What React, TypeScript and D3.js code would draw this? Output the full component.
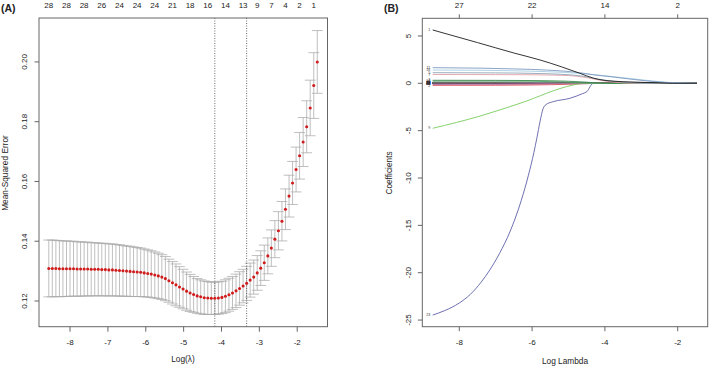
import React from 'react';
import * as d3 from 'd3';

// ---- Panel A: cross-validation curve ----
const logLambda = [
  -8.561, -8.468, -8.374, -8.281, -8.188, -8.094, -8.001, -7.908, -7.814, -7.721,
  -7.628, -7.535, -7.441, -7.348, -7.255, -7.161, -7.068, -6.975, -6.881, -6.788,
  -6.695, -6.602, -6.508, -6.415, -6.322, -6.228, -6.135, -6.042, -5.948, -5.855,
  -5.762, -5.669, -5.575, -5.482, -5.389, -5.295, -5.202, -5.109, -5.015, -4.922,
  -4.829, -4.736, -4.642, -4.549, -4.456, -4.362, -4.269, -4.176, -4.082, -3.989,
  -3.896, -3.803, -3.709, -3.616, -3.523, -3.429, -3.336, -3.243, -3.149, -3.056,
  -2.963, -2.870, -2.776, -2.683, -2.590, -2.496, -2.403, -2.310, -2.216, -2.123,
  -2.030, -1.937, -1.843, -1.750, -1.657, -1.563, -1.470,
];

const cvMean = [
  0.1309, 0.1309, 0.1309, 0.1308, 0.1308, 0.1308, 0.1308, 0.1308, 0.1307, 0.1307,
  0.1307, 0.1307, 0.1306, 0.1306, 0.1306, 0.1305, 0.1305, 0.1304, 0.1304, 0.1303,
  0.1302, 0.1301, 0.1300, 0.1299, 0.1298, 0.1297, 0.1296, 0.1294, 0.1292, 0.1290,
  0.1287, 0.1284, 0.1280, 0.1275, 0.1268, 0.1261, 0.1254, 0.1247, 0.1240, 0.1233,
  0.1227, 0.1222, 0.1217, 0.1214, 0.1211, 0.1210, 0.1209, 0.1209, 0.1210, 0.1212,
  0.1216, 0.1221, 0.1227, 0.1234, 0.1242, 0.1250, 0.1259, 0.1270, 0.1280, 0.1294,
  0.1310, 0.1328, 0.1351, 0.1377, 0.1407, 0.1435, 0.1467, 0.1507, 0.1551, 0.1595,
  0.1640, 0.1686, 0.1732, 0.1783, 0.1846, 0.1921, 0.2000,
];

const cvSE = [
  0.0095, 0.0095, 0.0094, 0.0094, 0.0093, 0.0093, 0.0092,
  0.0092, 0.0091, 0.0091, 0.0090, 0.0090, 0.0089, 0.0089, 0.0088, 0.0088, 0.0088,
  0.0087, 0.0087, 0.0086, 0.0086, 0.0085, 0.0084, 0.0084, 0.0083, 0.0082, 0.0081, 0.0080, 0.0079, 0.0078, 0.0077,
  0.0076, 0.0075, 0.0074, 0.0072, 0.0071, 0.0070, 0.0068, 0.0066, 0.0064, 0.0062, 0.0060, 0.0058, 0.0057, 0.0056, 0.0055, 0.0054,
  0.0054, 0.0054, 0.0054, 0.0055, 0.0055, 0.0055, 0.0056, 0.0056, 0.0056, 0.0057,
  0.0057, 0.0057, 0.0058, 0.0058, 0.0059, 0.0060, 0.0061, 0.0062, 0.0064, 0.0066,
  0.0068, 0.0070, 0.0072, 0.0075, 0.0078, 0.0082, 0.0087, 0.0093, 0.0110, 0.0105,
];

const lambdaMin = -4.176;
const lambda1se = -3.336;

const nzeroPosA = [-8.561, -8.094, -7.628, -7.161, -6.695, -6.228, -5.762, -5.295, -4.829,
  -4.362, -3.896, -3.429, -3.056, -2.683, -2.310, -1.937, -1.563];
const nzeroTextA = ['28', '28', '28', '26', '24', '24', '24', '21', '18', '16', '14', '13', '9', '7', '4', '2', '1'];

const xTicksA = [-8, -7, -6, -5, -4, -3, -2];
const yTicksA = [0.12, 0.14, 0.16, 0.18, 0.20];

// ---- Panel B: coefficient paths ----
const xTicksB = [-8, -6, -4, -2];
const nzeroTextB = ['27', '22', '14', '2'];
const yTicksB = [5, 0, -5, -10, -15, -20, -25];

const coefLabels = ['1', '11', '16', '5', '7', '3', '14', '20', '9', '2', '12', '23',
  '4', '6', '8', '10', '13', '15', '17', '18', '19', '21', '22', '24', '25', '26', '27', '28'];

const coefPaths: number[][][] = [
  [[-8.73, 5.63], [-7.5, 4.3], [-6.5, 3.2], [-5.78, 2.46], [-5.2, 1.75], [-4.69, 1.06], [-4.32, 0.55], [-4.0, 0.3], [-3.5, 0.17], [-3.0, 0.1], [-2.5, 0.05], [-2.15, 0], [-1.47, 0]],
  [[-8.73, 1.65], [-7.43, 1.6], [-6.5, 1.52], [-5.6, 1.4], [-4.69, 1.12], [-4.32, 0.9], [-3.8, 0.68], [-3.31, 0.45], [-2.7, 0.2], [-2.2, 0.06], [-1.9, 0.02], [-1.55, 0], [-1.47, 0]],
  [[-8.73, 1.4], [-7.43, 1.38], [-6.5, 1.32], [-5.6, 1.23], [-4.69, 1.05], [-4.0, 0.8], [-3.3, 0.5], [-2.7, 0.25], [-2.2, 0.08], [-1.8, 0.02], [-1.6, 0], [-1.47, 0]],
  [[-8.73, 1.12], [-7.0, 1.1], [-6.0, 1.05], [-5.2, 0.95], [-4.6, 0.75], [-4.2, 0.45], [-3.7, 0.2], [-3.2, 0.05], [-3.0, 0], [-1.47, 0]],
  [[-8.73, 0.93], [-7.0, 0.92], [-6.0, 0.9], [-5.0, 0.82], [-4.5, 0.6], [-4.1, 0.3], [-3.6, 0.08], [-3.3, 0], [-1.47, 0]],
  [[-8.73, 0.32], [-7.0, 0.31], [-6.0, 0.29], [-5.0, 0.22], [-4.5, 0.12], [-4.2, 0.03], [-3.95, 0], [-1.47, 0]],
  [[-8.73, 0.24], [-7.0, 0.24], [-6.0, 0.22], [-5.2, 0.15], [-4.6, 0.05], [-4.4, 0], [-1.47, 0]],
  [[-8.73, 0.12], [-7.0, 0.12], [-6.0, 0.1], [-5.3, 0.05], [-4.9, 0], [-1.47, 0]],
  [[-8.73, -4.75], [-7.43, -3.46], [-6.33, -2.11], [-4.87, -0.18], [-4.6, 0], [-1.47, 0]],
  [[-8.73, -0.22], [-7.0, -0.21], [-6.0, -0.18], [-5.0, -0.1], [-4.5, -0.03], [-4.3, 0], [-1.47, 0]],
  [[-8.73, -0.08], [-7.0, -0.08], [-6.0, -0.06], [-5.0, -0.02], [-4.7, 0], [-1.47, 0]],
  [[-8.73, -24.47], [-8.4, -24.0], [-8.0, -23.2], [-7.7, -22.3], [-7.4, -21.0], [-7.16, -19.7], [-6.9, -18.0], [-6.6, -15.6], [-6.3, -12.4], [-6.1, -9.7], [-5.95, -7.3], [-5.87, -5.8], [-5.78, -4.0], [-5.7, -2.7], [-5.62, -2.25], [-5.42, -1.94], [-4.96, -1.58], [-4.62, -1.1], [-4.5, -0.89], [-4.32, 0], [-1.47, 0]],
  [[-8.73, 0.02], [-8.2, 0], [-1.47, 0]],
  [[-8.73, -0.03], [-7.3, 0], [-1.47, 0]],
  [[-8.73, 0.04], [-6.9, 0], [-1.47, 0]],
  [[-8.73, 0.03], [-6.6, 0], [-1.47, 0]],
  [[-8.73, -0.04], [-6.4, 0], [-1.47, 0]],
  [[-8.73, 0.05], [-6.1, 0], [-1.47, 0]],
  [[-8.73, 0.06], [-6.0, 0.04], [-5.3, 0], [-1.47, 0]],
  [[-8.73, -0.05], [-6.0, -0.04], [-4.8, 0], [-1.47, 0]],
  [[-8.73, 0.07], [-6.0, 0.06], [-4.5, 0.02], [-3.9, 0], [-1.47, 0]],
  [[-8.73, 0.05], [-6.0, 0.05], [-4.5, 0.03], [-3.6, 0], [-1.47, 0]],
  [[-8.73, -0.06], [-6.0, -0.05], [-4.5, -0.03], [-3.4, 0], [-1.47, 0]],
  [[-8.73, 0.04], [-6.0, 0.04], [-4.5, 0.03], [-3.1, 0], [-1.47, 0]],
  [[-8.73, 0.08], [-6.0, 0.07], [-4.5, 0.05], [-2.9, 0], [-1.47, 0]],
  [[-8.73, -0.02], [-6.0, -0.02], [-4.5, -0.02], [-2.7, 0], [-1.47, 0]],
  [[-8.73, 0.03], [-6.0, 0.03], [-4.5, 0.02], [-2.5, 0], [-1.47, 0]],
  [[-8.73, 0.06], [-6.0, 0.06], [-4.0, 0.03], [-2.3, 0], [-1.47, 0]],
];

const coefColors = ['#1e1e1e', '#7d98c2', '#a6cde0', '#8fa5b5', '#e6a0a8', '#3d8a50', '#56a468',
  '#8c8c8c', '#79cc5e', '#de5262', '#c673b8', '#5e60a8',
  '#333333', '#555555', '#2a2a2a', '#444444', '#303030', '#4a4a4a', '#5a6b5a', '#6a5a6a',
  '#3a3a3a', '#555566', '#404040', '#666655', '#353535', '#505050', '#2e2e2e', '#454545'];

const font = '"Liberation Sans", Arial, Helvetica, sans-serif';
const axisColor = '#666';
const textColor = '#222';

function PanelA() {
  const x = d3.scaleLinear().domain([-8.82, -1.2]).range([39, 327.5]);
  const y = d3.scaleLinear().domain([0.1114, 0.2147]).range([326.7, 18]);
  const capHalf = x(-8) - x(-8 - 0.142);
  const [x0, x1] = x.range();
  const [y0, y1] = y.range();

  return (
    <g>
      <text x={1} y={11.5} fontSize={10.5} fontWeight="bold" fill={textColor}>(A)</text>

      {/* error bars */}
      <g stroke="#aaaaaa" strokeWidth={0.75}>
        {logLambda.map((l, i) => {
          const up = y(cvMean[i] + cvSE[i]);
          const lo = y(cvMean[i] - cvSE[i]);
          const cx = x(l);
          return (
            <g key={i}>
              <line x1={cx} x2={cx} y1={up} y2={lo} />
              <line x1={cx - capHalf} x2={cx + capHalf} y1={up} y2={up} />
              <line x1={cx - capHalf} x2={cx + capHalf} y1={lo} y2={lo} />
            </g>
          );
        })}
      </g>

      {/* dotted lines at lambda.min and lambda.1se */}
      {[lambdaMin, lambda1se].map((l, i) => (
        <line key={i} x1={x(l)} x2={x(l)} y1={y1} y2={y0} stroke="#444" strokeWidth={0.8} strokeDasharray="1,1.5" />
      ))}

      {/* points */}
      <g fill="#d01c1c">
        {logLambda.map((l, i) => (
          <circle key={i} cx={x(l)} cy={y(cvMean[i])} r={1.55} />
        ))}
      </g>

      {/* box */}
      <rect x={x0} y={y1} width={x1 - x0} height={y0 - y1} fill="none" stroke={axisColor} strokeWidth={1} />

      {/* x axis */}
      {xTicksA.map((t) => (
        <g key={t}>
          <line x1={x(t)} x2={x(t)} y1={y0} y2={y0 + 5} stroke={axisColor} />
          <text x={x(t)} y={345} fontSize={8} textAnchor="middle" fill={textColor}>{t}</text>
        </g>
      ))}
      <text x={183} y={362} fontSize={8.3} textAnchor="middle" fill={textColor}>Log(λ)</text>

      {/* y axis */}
      {yTicksA.map((t) => (
        <g key={t}>
          <line x1={x0 - 4.5} x2={x0} y1={y(t)} y2={y(t)} stroke={axisColor} />
          <text x={27} y={y(t)} fontSize={8} textAnchor="middle" fill={textColor}
            transform={`rotate(-90, 27, ${y(t)})`}>{t.toFixed(2)}</text>
        </g>
      ))}
      <text x={8} y={173} fontSize={8.3} textAnchor="middle" fill={textColor}
        transform="rotate(-90, 8, 173)">Mean-Squared Error</text>

      {/* top axis: number of nonzero coefficients */}
      {nzeroPosA.map((p, i) => (
        <text key={i} x={x(p)} y={8} fontSize={8} textAnchor="middle" fill={textColor}>{nzeroTextA[i]}</text>
      ))}
    </g>
  );
}

function PanelB() {
  const x = d3.scaleLinear().domain([-9.016, -1.176]).range([422.3, 707.7]);
  const y = d3.scaleLinear().domain([-25.7, 6.864]).range([326.7, 18.3]);
  const [x0, x1] = x.range();
  const [y0, y1] = y.range();
  const line = d3.line<number[]>().x((d) => x(d[0])).y((d) => y(d[1])).curve(d3.curveMonotoneX);

  return (
    <g>
      <text x={384} y={11.5} fontSize={10.5} fontWeight="bold" fill={textColor}>(B)</text>

      {/* coefficient paths, drawn so that the big ones stay on top */}
      <g fill="none" strokeWidth={0.9}>
        {coefPaths.map((p, i) => i).reverse().map((i) => (
          <path key={i} d={line(coefPaths[i]) || ''} stroke={coefColors[i]} />
        ))}
      </g>

      {/* variable labels */}
      {coefPaths.map((p, i) => (
        <text key={i} x={x(p[0][0]) - 2.5} y={y(p[0][1]) + 1.2} fontSize={3.6} textAnchor="end" fill="#333">{coefLabels[i]}</text>
      ))}

      <rect x={x0} y={y1} width={x1 - x0} height={y0 - y1} fill="none" stroke={axisColor} strokeWidth={1} />

      {/* bottom axis */}
      {xTicksB.map((t) => (
        <g key={t}>
          <line x1={x(t)} x2={x(t)} y1={y0} y2={y0 + 4.5} stroke={axisColor} />
          <text x={x(t)} y={345} fontSize={8} textAnchor="middle" fill={textColor}>{t}</text>
        </g>
      ))}
      <text x={565} y={364} fontSize={8.3} textAnchor="middle" fill={textColor}>Log Lambda</text>

      {/* top axis */}
      {xTicksB.map((t, i) => (
        <g key={t}>
          <line x1={x(t)} x2={x(t)} y1={y1} y2={y1 - 4} stroke={axisColor} />
          <text x={x(t)} y={8} fontSize={8} textAnchor="middle" fill={textColor}>{nzeroTextB[i]}</text>
        </g>
      ))}

      {/* y axis */}
      {yTicksB.map((t) => (
        <g key={t}>
          <line x1={x0 - 4.5} x2={x0} y1={y(t)} y2={y(t)} stroke={axisColor} />
          <text x={411} y={y(t)} fontSize={8} textAnchor="middle" fill={textColor}
            transform={`rotate(-90, 411, ${y(t)})`}>{t}</text>
        </g>
      ))}
      <text x={392} y={173} fontSize={8.3} textAnchor="middle" fill={textColor}
        transform="rotate(-90, 392, 173)">Coefficients</text>
    </g>
  );
}

export default function App() {
  return (
    <svg width={709} height={368} style={{ position: 'absolute', left: 0, top: 0, background: '#fff' }}
      fontFamily={font}>
      <rect width={709} height={368} fill="#fff" />
      <PanelA />
      <PanelB />
    </svg>
  );
}
